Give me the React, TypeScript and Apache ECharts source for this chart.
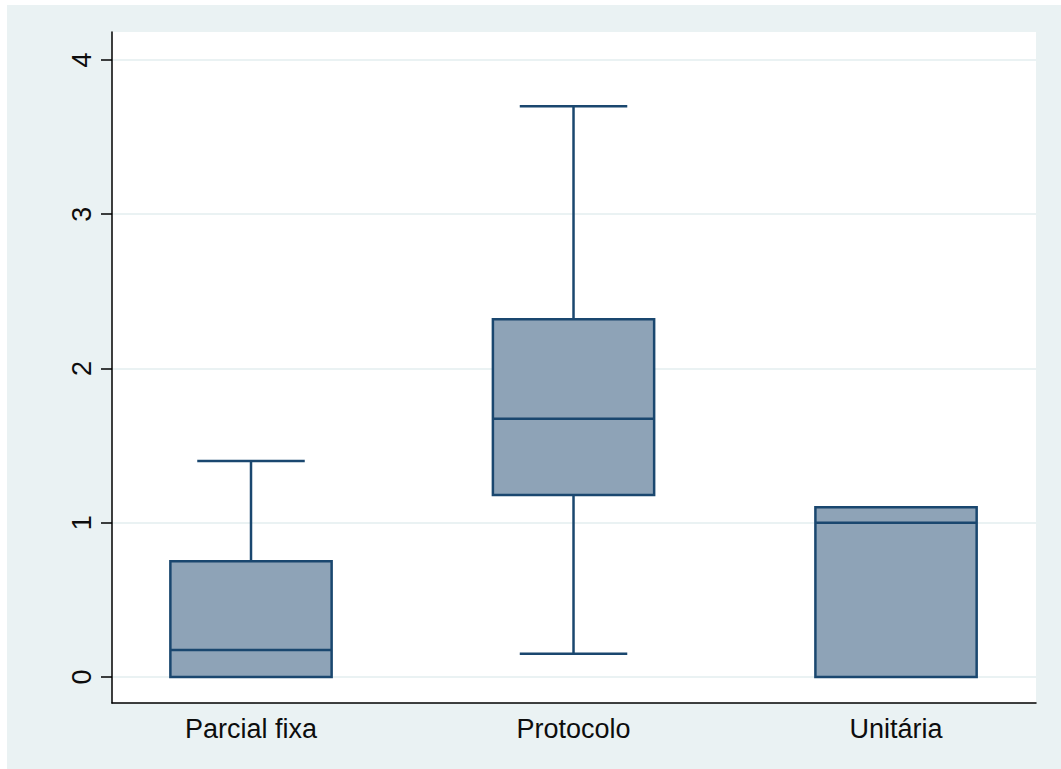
import React, { useEffect, useRef } from "react";
import * as echarts from "echarts";

// Box plot summary per group
const categories = ["Parcial fixa", "Protocolo", "Unitária"];
const whiskerLow = [0, 0.15, 0];
const quartile1 = [0, 1.18, 0];
const medians = [0.175, 1.675, 1.0];
const quartile3 = [0.75, 2.32, 1.1];
const whiskerHigh = [1.4, 3.7, 1.1];
const yTicks = [0, 1, 2, 3, 4];

const NAVY = "#1a476f";
const FILL = "#8ea3b7";
const PANEL = "#eaf2f3";

export default function App() {
  const ref = useRef<HTMLDivElement>(null);

  useEffect(() => {
    if (!ref.current) return;
    const chart = echarts.init(ref.current, undefined, { renderer: "svg" });

    const data = categories.map((_, i) => [
      i,
      whiskerLow[i],
      quartile1[i],
      medians[i],
      quartile3[i],
      whiskerHigh[i],
    ]);

    const renderItem = (params: any, api: any) => {
      const idx = api.value(0);
      const lo = api.coord([idx, api.value(1)]);
      const q1 = api.coord([idx, api.value(2)]);
      const md = api.coord([idx, api.value(3)]);
      const q3 = api.coord([idx, api.value(4)]);
      const hi = api.coord([idx, api.value(5)]);
      const boxW = api.size([0.5, 0])[0];
      const capW = api.size([1 / 3, 0])[0];
      const cx = q1[0];
      const lineStyle = { stroke: NAVY, lineWidth: 2.5, fill: null };
      const children: any[] = [];
      if (hi[1] < q3[1] - 0.5) {
        children.push({
          type: "line",
          shape: { x1: cx, y1: q3[1], x2: cx, y2: hi[1] },
          style: lineStyle,
        });
        children.push({
          type: "line",
          shape: { x1: cx - capW / 2, y1: hi[1], x2: cx + capW / 2, y2: hi[1] },
          style: lineStyle,
        });
      }
      if (lo[1] > q1[1] + 0.5) {
        children.push({
          type: "line",
          shape: { x1: cx, y1: q1[1], x2: cx, y2: lo[1] },
          style: lineStyle,
        });
        children.push({
          type: "line",
          shape: { x1: cx - capW / 2, y1: lo[1], x2: cx + capW / 2, y2: lo[1] },
          style: lineStyle,
        });
      }
      children.push({
        type: "rect",
        shape: { x: cx - boxW / 2, y: q3[1], width: boxW, height: q1[1] - q3[1] },
        style: { fill: FILL, stroke: NAVY, lineWidth: 2.5 },
      });
      children.push({
        type: "line",
        shape: { x1: cx - boxW / 2, y1: md[1], x2: cx + boxW / 2, y2: md[1] },
        style: lineStyle,
      });
      return { type: "group", children };
    };

    chart.setOption({
      animation: false,
      backgroundColor: PANEL,
      textStyle: { fontFamily: "Liberation Sans, Arial, sans-serif" },
      graphic: [
        { type: "rect", shape: { x: 0, y: 0, width: 1061, height: 5 }, style: { fill: "#fff" } },
        { type: "rect", shape: { x: 0, y: 0, width: 7, height: 769 }, style: { fill: "#fff" } },
      ],
      grid: {
        left: 112,
        top: 32,
        right: 25,
        bottom: 66,
        show: true,
        backgroundColor: "#fff",
        borderWidth: 0,
      },
      xAxis: {
        type: "value",
        min: -0.431,
        max: 2.434,
        axisLine: { show: true, onZero: false, lineStyle: { color: "#000", width: 1.5 } },
        axisTick: { show: false },
        splitLine: { show: false },
        axisLabel: {
          customValues: [0, 1, 2],
          formatter: (v: number) => categories[Math.round(v)] ?? "",
          fontSize: 27,
          color: "#0d0d0d",
          margin: 12,
          fontFamily: "Liberation Sans, Arial, sans-serif",
        },
      },
      yAxis: {
        type: "value",
        min: -0.1686,
        max: 4.1815,
        axisLine: { show: true, onZero: false, lineStyle: { color: "#000", width: 1.5 } },
        axisTick: {
          show: true,
          customValues: yTicks,
          length: 11,
          lineStyle: { color: "#000", width: 1.5 },
        },
        splitLine: { show: true, lineStyle: { color: PANEL, width: 2 } },
        axisLabel: {
          customValues: yTicks,
          rotate: 90,
          fontSize: 27,
          color: "#0d0d0d",
          margin: 17,
          fontFamily: "Liberation Sans, Arial, sans-serif",
        },
      },
      series: [
        {
          type: "custom",
          renderItem,
          data,
          encode: { x: 0, y: [1, 2, 3, 4, 5] },
        },
      ],
    });

    return () => chart.dispose();
  }, []);

  return (
    <div
      ref={ref}
      style={{ position: "absolute", left: 0, top: 0, width: 1061, height: 769 }}
    />
  );
}
